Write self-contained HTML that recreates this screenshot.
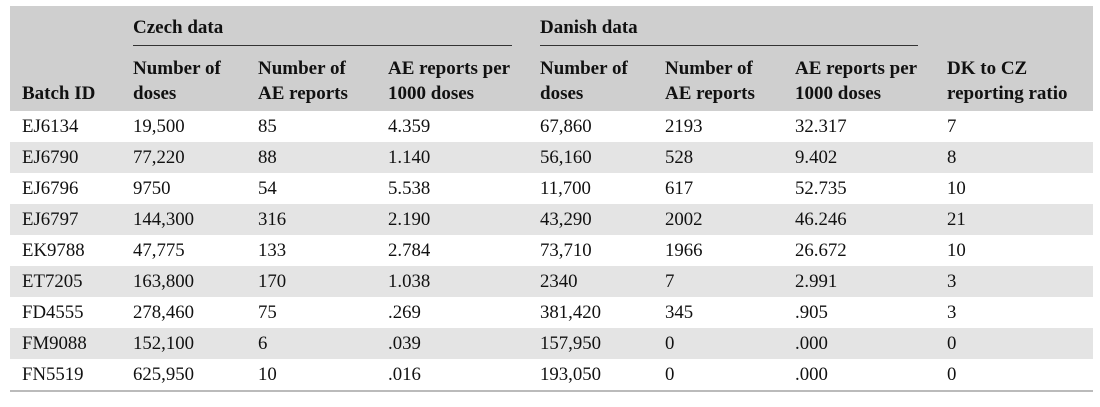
<!DOCTYPE html>
<html><head><meta charset="utf-8"><style>
body{margin:0;width:1100px;height:407px;background:#fff;position:relative;font-family:"Liberation Serif",serif;color:#111;overflow:hidden}
.hd{position:absolute;left:10px;top:6px;width:1083px;height:105px;background:#cfcfcf}
.row{position:absolute;left:10px;width:1083px;height:31px}
.g{background:#e4e4e4}
.t{position:absolute;font-size:18.8px;line-height:20px;white-space:nowrap}
.b{font-weight:bold;line-height:25px;font-size:19px}
.ln{position:absolute;height:1px;background:#333}
</style></head><body>
<div class="hd"></div>
<div class="t b" style="left:133px;top:15px">Czech data</div>
<div class="t b" style="left:540px;top:15px">Danish data</div>
<div class="ln" style="left:133px;width:379px;top:45px"></div>
<div class="ln" style="left:540px;width:378px;top:45px"></div>
<div class="t b" style="left:22px;top:81px">Batch ID</div>
<div class="t b" style="left:133px;top:56px">Number of<br>doses</div>
<div class="t b" style="left:258px;top:56px">Number of<br>AE reports</div>
<div class="t b" style="left:388px;top:56px">AE reports per<br>1000 doses</div>
<div class="t b" style="left:540px;top:56px">Number of<br>doses</div>
<div class="t b" style="left:665px;top:56px">Number of<br>AE reports</div>
<div class="t b" style="left:795px;top:56px">AE reports per<br>1000 doses</div>
<div class="t b" style="left:947px;top:56px">DK to CZ<br>reporting ratio</div>
<div id="r"></div>
<div class="ln" style="left:10px;width:1083px;top:390px;background:#bbb;height:2px"></div>
<script>
var d=[["EJ6134","19,500","85","4.359","67,860","2193","32.317","7"],
["EJ6790","77,220","88","1.140","56,160","528","9.402","8"],
["EJ6796","9750","54","5.538","11,700","617","52.735","10"],
["EJ6797","144,300","316","2.190","43,290","2002","46.246","21"],
["EK9788","47,775","133","2.784","73,710","1966","26.672","10"],
["ET7205","163,800","170","1.038","2340","7","2.991","3"],
["FD4555","278,460","75",".269","381,420","345",".905","3"],
["FM9088","152,100","6",".039","157,950","0",".000","0"],
["FN5519","625,950","10",".016","193,050","0",".000","0"]];
var xs=[22,133,258,388,540,665,795,947],h="";
d.forEach(function(r,i){var y=111+i*31;
h+='<div class="row'+(i%2?' g':'')+'" style="top:'+y+'px"></div>';
r.forEach(function(c,j){h+='<div class="t" style="left:'+xs[j]+'px;top:'+(y+6)+'px">'+c+'</div>';});});
document.getElementById('r').innerHTML=h;
</script>
</body></html>
